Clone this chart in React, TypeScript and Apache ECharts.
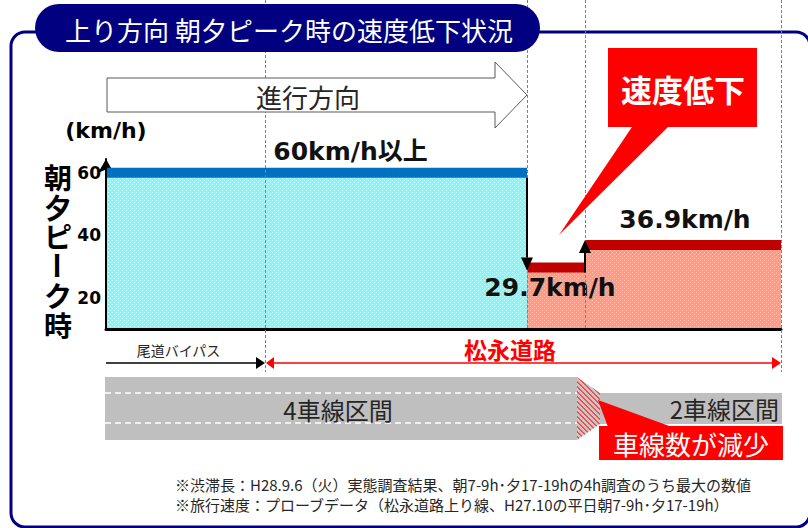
import React, { useEffect, useRef } from 'react';
import * as echarts from 'echarts';

// ---- data ----
const SEGMENT_START = [0, 42.1, 47.9];
const SEGMENT_END = [42.1, 47.9, 67.5];
const SPEED_KMH = [60, 29.7, 36.9];
const SPEED_LABELS = ['60km/h以上', '29.7km/h', '36.9km/h'];
const Y_TICKS = [20, 40, 60];
const Y_MIN = 10;
const Y_MAX = 64.4;
const X_MAX = 67.5;
const ROAD_START = [0, 15.9];
const ROAD_END = [15.9, 67.5];
const ROAD_NAMES = ['尾道バイパス', '松永道路'];
const FOUR_LANE = [0, 47.1];
const TWO_LANE = [49.4, 67.5];
const LANE_LABELS = ['4車線区間', '2車線区間'];
const TITLE = '上り方向 朝夕ピーク時の速度低下状況';
const Y_NAME_CHARS = ['朝', '夕', 'ピ', 'ー', 'ク', '時'];
const NOTES = [
  '※渋滞長：H28.9.6（火）実態調査結果、朝7-9h･夕17-19hの4h調査のうち最大の数値',
  '※旅行速度：プローブデータ（松永道路上り線、H27.10の平日朝7-9h･夕17-19h）',
];

const JP = "'Noto Sans CJK JP', 'Noto Sans', sans-serif";
const BOLDLAT = "'DejaVu Sans', 'Noto Sans CJK JP', sans-serif";

function makePattern(base: string, mark: string, kind: 'dots' | 'hatch') {
  const n = kind === 'dots' ? 4 : 5;
  const c = document.createElement('canvas');
  c.width = n;
  c.height = n;
  const g = c.getContext('2d')!;
  g.fillStyle = base;
  g.fillRect(0, 0, n, n);
  g.fillStyle = mark;
  if (kind === 'dots') {
    g.fillRect(0, 0, 1, 1);
    g.fillRect(2, 2, 1, 1);
  } else {
    for (let k = 0; k < n; k++) {
      g.fillRect(k, k, 1, 1);
      g.fillRect((k + 1) % n, k, 1, 1);
    }
  }
  return { image: c.toDataURL(), repeat: 'repeat', imageWidth: n, imageHeight: n } as any;
}

export default function App() {
  const ref = useRef<HTMLDivElement>(null);
  useEffect(() => {
    const chart = echarts.init(ref.current!, null, { renderer: 'svg' });
    const cyan = makePattern('#84f8f8', '#d8ffff', 'dots');
    const salmon = makePattern('#ff9a85', '#ffbcac', 'dots');
    const hatch = makePattern('#c8c8c8', '#f05050', 'hatch');

    const LABEL_DX = [34, -6, 2];
    const LABEL_DY = [-21, 20, -25];

    const segData = SEGMENT_START.map((s, i) => [s, SEGMENT_END[i], SPEED_KMH[i]]);
    const stepData = SEGMENT_START.slice(1).map((s, i) => [s, SPEED_KMH[i], SPEED_KMH[i + 1]]);

    chart.setOption({
      animation: false,
      backgroundColor: '#ffffff',
      grid: { left: 106, top: 159, width: 675, height: 170 },
      xAxis: {
        type: 'value',
        min: 0,
        max: X_MAX,
        axisLine: { show: true, onZero: false, lineStyle: { color: '#000', width: 3 } },
        axisTick: { show: false },
        axisLabel: { show: false },
        splitLine: { show: false },
      },
      yAxis: {
        type: 'value',
        min: Y_MIN,
        max: Y_MAX,
        name: '(km/h)',
        nameLocation: 'end',
        nameGap: 29,
        nameTextStyle: {
          fontSize: 22,
          fontWeight: 'bold',
          color: '#000',
          fontFamily: BOLDLAT,
          verticalAlign: 'middle',
          align: 'center',
        },
        axisLine: {
          show: true,
          onZero: false,
          symbol: ['none', 'arrow'],
          symbolSize: [12, 14],
          lineStyle: { color: '#000', width: 2 },
        },
        axisTick: { show: false },
        splitLine: { show: false },
        axisLabel: {
          customValues: Y_TICKS,
          fontSize: 17,
          fontWeight: 'bold',
          color: '#000',
          fontFamily: BOLDLAT,
          margin: 5,
        },
      },
      series: [
        {
          type: 'custom',
          z: 2,
          data: segData,
          renderItem: (params: any, api: any) => {
            const i = params.dataIndex;
            const tl = api.coord([api.value(0), api.value(2)]);
            const br = api.coord([api.value(1), Y_MIN]);
            const w = br[0] - tl[0];
            return {
              type: 'group',
              children: [
                {
                  type: 'rect',
                  shape: { x: tl[0] + (i === 0 ? 1 : 0), y: tl[1], width: w - (i === 0 ? 1 : 0), height: br[1] - tl[1] - 1 },
                  style: { fill: i === 0 ? cyan : salmon },
                },
                {
                  type: 'rect',
                  shape: { x: tl[0] + (i === 0 ? 1 : 0), y: tl[1] - 5, width: w - (i === 0 ? 1 : 0), height: 10 },
                  style: { fill: i === 0 ? '#0070c0' : '#c00000' },
                },
                {
                  type: 'text',
                  x: (tl[0] + br[0]) / 2 + LABEL_DX[i],
                  y: tl[1] + LABEL_DY[i],
                  z2: 10,
                  style: {
                    text: SPEED_LABELS[i],
                    fill: '#111',
                    fontSize: 25,
                    fontWeight: 'bold',
                    fontFamily: BOLDLAT,
                    align: 'center',
                    verticalAlign: 'middle',
                  },
                },
              ],
            };
          },
        },
        {
          type: 'custom',
          z: 4,
          data: stepData,
          renderItem: (params: any, api: any) => {
            const from = api.value(1);
            const to = api.value(2);
            const p = api.coord([api.value(0), from]);
            const q = api.coord([api.value(0), to]);
            const down = to < from;
            const y0 = p[1] + 5;
            const tip = down ? q[1] + 3 : q[1] - 5;
            const base = down ? tip - 13 : tip + 13;
            const x = p[0];
            return {
              type: 'group',
              children: [
                { type: 'line', shape: { x1: x, y1: y0, x2: x, y2: base }, style: { stroke: '#000', lineWidth: 2 } },
                {
                  type: 'polygon',
                  shape: { points: [[x - 6, base], [x + 6, base], [x, tip]] },
                  style: { fill: '#000' },
                },
              ],
            };
          },
        },
      ],
    });

    const px = (v: number) => chart.convertToPixel({ xAxisIndex: 0 }, v) as number;
    const py = (v: number) => chart.convertToPixel({ yAxisIndex: 0 }, v) as number;
    const baseY = py(Y_MIN);

    const g: any[] = [];
    // frame
    g.push({
      type: 'rect',
      z: 1,
      shape: { x: 11, y: 32, width: 799, height: 495, r: 14 },
      style: { fill: 'none', stroke: '#000080', lineWidth: 3 },
    });
    // dashed section lines
    const dashLines = [
      ...ROAD_END.map((v) => ({ v, end: 372 })),
      ...SEGMENT_END.slice(0, -1).map((v) => ({ v, end: baseY })),
    ];
    dashLines.forEach((d) => {
      const x = Math.round(px(d.v)) + 0.5;
      g.push({
        type: 'line',
        z: 3,
        shape: { x1: x, y1: 0, x2: x, y2: d.end },
        style: { stroke: '#808080', lineWidth: 1, lineDash: [3, 2] },
      });
    });
    // title pill
    g.push({
      type: 'rect',
      z: 10,
      shape: { x: 35, y: 4, width: 505, height: 48, r: 24 },
      style: { fill: '#000080' },
    });
    g.push({
      type: 'text',
      z: 11,
      x: 289,
      y: 29,
      style: { text: TITLE, fill: '#fff', fontSize: 26, fontFamily: JP, align: 'center', verticalAlign: 'middle' },
    });
    // direction arrow
    const ax0 = px(0) + 1;
    const ax1 = px(SEGMENT_END[0]);
    g.push({
      type: 'polygon',
      z: 10,
      shape: {
        points: [
          [ax0, 78], [ax1 - 32, 78], [ax1 - 32, 62], [ax1, 95], [ax1 - 32, 128], [ax1 - 32, 112], [ax0, 112],
        ],
      },
      style: { fill: '#fff', stroke: '#595959', lineWidth: 1 },
    });
    g.push({
      type: 'text',
      z: 11,
      x: 308,
      y: 96,
      style: { text: '進行方向', fill: '#262626', fontSize: 26, fontFamily: JP, align: 'center', verticalAlign: 'middle' },
    });
    // speed drop callout
    g.push({
      type: 'polygon',
      z: 10,
      shape: { points: [[608, 48], [757, 48], [757, 127], [668, 127], [559, 235], [632, 127], [608, 127]] },
      style: { fill: '#ff0000' },
    });
    g.push({
      type: 'text',
      z: 11,
      x: 683,
      y: 88,
      style: { text: '速度低下', fill: '#fff', fontSize: 31, fontWeight: 'bold', fontFamily: JP, align: 'center', verticalAlign: 'middle' },
    });
    // vertical y name: consecutive upright chars grouped into one multi-line text, the long-vowel mark rotated
    const step = 29.5;
    const firstCenter = 177;
    const groups: { start: number; chars: string[]; rotated: boolean }[] = [];
    Y_NAME_CHARS.forEach((ch, k) => {
      const rotated = ch === 'ー';
      const last = groups[groups.length - 1];
      if (!rotated && last && !last.rotated) last.chars.push(ch);
      else groups.push({ start: k, chars: [ch], rotated });
    });
    groups.forEach((grp) => {
      if (grp.rotated) {
        g.push({
          type: 'text',
          z: 11,
          x: 58,
          y: firstCenter + step * grp.start,
          rotation: -Math.PI / 2,
          style: {
            text: grp.chars.join(''),
            fill: '#000',
            fontSize: 28,
            fontWeight: 'bold',
            fontFamily: JP,
            align: 'center',
            verticalAlign: 'middle',
          },
        });
      } else {
        g.push({
          type: 'text',
          z: 11,
          x: 58,
          y: firstCenter + step * grp.start - step / 2,
          style: {
            text: grp.chars.join('\n'),
            fill: '#000',
            fontSize: 28,
            lineHeight: step,
            fontWeight: 'bold',
            fontFamily: JP,
            align: 'center',
            verticalAlign: 'top',
          },
        });
      }
    });
    // road sections
    const r0a = px(ROAD_START[0]);
    const r0b = px(ROAD_END[0]);
    const r1a = px(ROAD_START[1]);
    const r1b = px(ROAD_END[1]);
    const ay = 363;
    g.push({
      type: 'text',
      z: 11,
      x: (r0a + r0b) / 2 - 7,
      y: 350,
      style: { text: ROAD_NAMES[0], fill: '#262626', fontSize: 14, fontFamily: JP, align: 'center', verticalAlign: 'middle' },
    });
    g.push({ type: 'line', z: 5, shape: { x1: r0a, y1: ay, x2: r0b - 8, y2: ay }, style: { stroke: '#404040', lineWidth: 2 } });
    g.push({ type: 'polygon', z: 5, shape: { points: [[r0b - 9, ay - 6], [r0b, ay], [r0b - 9, ay + 6]] }, style: { fill: '#000' } });
    g.push({
      type: 'text',
      z: 11,
      x: (r1a + r1b) / 2 - 13,
      y: 349,
      style: { text: ROAD_NAMES[1], fill: '#ff0000', fontSize: 23, fontWeight: 'bold', fontFamily: JP, align: 'center', verticalAlign: 'middle' },
    });
    g.push({ type: 'line', z: 5, shape: { x1: r1a + 8, y1: ay, x2: r1b - 8, y2: ay }, style: { stroke: '#ff0000', lineWidth: 1.5 } });
    g.push({ type: 'polygon', z: 5, shape: { points: [[r1a + 9, ay - 6], [r1a + 1, ay], [r1a + 9, ay + 6]] }, style: { fill: '#ff0000' } });
    g.push({ type: 'polygon', z: 5, shape: { points: [[r1b - 9, ay - 6], [r1b, ay], [r1b - 9, ay + 6]] }, style: { fill: '#ff0000' } });
    // lanes
    const l4a = px(FOUR_LANE[0]) - 1;
    const l4b = px(FOUR_LANE[1]);
    const l2a = px(TWO_LANE[0]);
    const l2b = px(TWO_LANE[1]) + 1;
    g.push({ type: 'rect', z: 5, shape: { x: l4a, y: 377, width: l4b - l4a, height: 63 }, style: { fill: '#bfbfbf' } });
    g.push({ type: 'rect', z: 5, shape: { x: l2a - 1, y: 393, width: l2b - l2a + 1, height: 31 }, style: { fill: '#bfbfbf' } });
    g.push({
      type: 'polygon',
      z: 5,
      shape: { points: [[l4b, 377], [l2a, 393], [l2a, 424], [l4b, 440]] },
      style: { fill: hatch },
    });
    [393, 423].forEach((yy) => {
      g.push({
        type: 'line',
        z: 6,
        shape: { x1: l4a, y1: yy, x2: l4b, y2: yy },
        style: { stroke: '#ffffff', lineWidth: 1.5, lineDash: [6, 4] },
      });
    });
    g.push({
      type: 'text',
      z: 11,
      x: 338,
      y: 409,
      style: { text: LANE_LABELS[0], fill: '#262626', fontSize: 24, fontFamily: JP, align: 'center', verticalAlign: 'middle' },
    });
    g.push({
      type: 'text',
      z: 11,
      x: l2b - 3,
      y: 408,
      style: { text: LANE_LABELS[1], fill: '#262626', fontSize: 24, fontFamily: JP, align: 'right', verticalAlign: 'middle' },
    });
    // lane reduction callout
    g.push({
      type: 'polygon',
      z: 7,
      shape: { points: [[598, 400], [672, 427], [608, 427]] },
      style: { fill: '#ff0000' },
    });
    g.push({ type: 'rect', z: 7, shape: { x: 599, y: 426, width: 184, height: 34 }, style: { fill: '#ff0000' } });
    g.push({
      type: 'text',
      z: 11,
      x: 691,
      y: 443,
      style: { text: '車線数が減少', fill: '#fff', fontSize: 26, fontFamily: JP, align: 'center', verticalAlign: 'middle' },
    });
    // notes
    NOTES.forEach((t, k) => {
      g.push({
        type: 'text',
        z: 11,
        x: 175,
        y: 484 + 20 * k,
        style: { text: t, fill: '#262626', fontSize: 15, fontFamily: JP, align: 'left', verticalAlign: 'middle' },
      });
    });

    chart.setOption({ graphic: g });
    return () => chart.dispose();
  }, []);
  return (
    <div
      ref={ref}
      style={{ position: 'fixed', left: 0, top: 0, width: 808, height: 528, background: '#fff' }}
    />
  );
}
